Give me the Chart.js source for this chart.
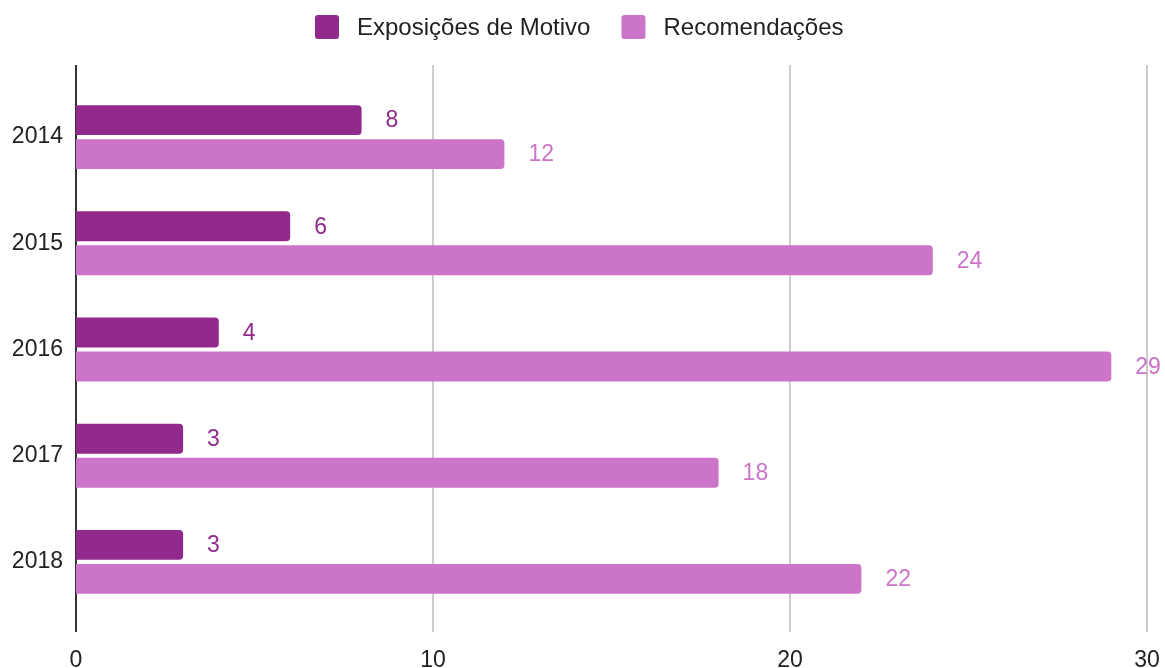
<!DOCTYPE html>
<html>
<head>
<meta charset="utf-8">
<script src="https://cdn.jsdelivr.net/npm/chart.js@4/dist/chart.umd.min.js"></script>
<style>
  html, body { margin: 0; padding: 0; background: #fff; }
  #wrap { width: 1165px; height: 668px; }
</style>
</head>
<body>
<div id="wrap"><canvas id="chart" width="1165" height="668"></canvas></div>
<script>
// Chart data
const years = ['2014', '2015', '2016', '2017', '2018'];
const exposicoes = [8, 6, 4, 3, 3];
const recomendacoes = [12, 24, 29, 18, 22];
const xTicks = [0, 10, 20, 30];

const darkPurple = '#912a8c';
const lightPurple = '#cc74c9';
const fontFamily = '"Liberation Sans", Arial, sans-serif';

// Grid lines and the zero axis run a bit past the plot area
const gridPlugin = {
    id: 'tallGrid',
    beforeDatasetsDraw(chart) {
        const ctx = chart.ctx;
        const xScale = chart.scales.x;
        const top = chart.chartArea.top - 19;
        const bottom = chart.chartArea.bottom + 17;
        ctx.save();
        xTicks.forEach((v) => {
            const x = Math.round(xScale.getPixelForValue(v));
            ctx.beginPath();
            ctx.lineWidth = 2;
            ctx.strokeStyle = v === 0 ? '#333333' : '#cccccc';
            ctx.moveTo(x, top);
            ctx.lineTo(x, bottom);
            ctx.stroke();
        });
        ctx.restore();
    }
};

// Value labels after each bar
const valueLabels = {
    id: 'valueLabels',
    afterDatasetsDraw(chart) {
        const ctx = chart.ctx;
        ctx.save();
        ctx.font = '23px ' + fontFamily;
        ctx.textBaseline = 'middle';
        ctx.textAlign = 'left';
        chart.data.datasets.forEach((ds, i) => {
            const meta = chart.getDatasetMeta(i);
            ctx.fillStyle = ds.backgroundColor;
            meta.data.forEach((bar, j) => {
                ctx.fillText(String(ds.data[j]), bar.x + 24, bar.y + 1);
            });
        });
        ctx.restore();
    }
};

// Legend drawn by hand: rounded squares with roomy gaps
const topLegend = {
    id: 'topLegend',
    afterDraw(chart) {
        const ctx = chart.ctx;
        const box = 24;
        const boxGap = 18;
        const itemGap = 31;
        const cy = 27;
        ctx.save();
        ctx.font = '24px ' + fontFamily;
        ctx.textBaseline = 'middle';
        const items = chart.data.datasets.map((ds) => ({
            text: ds.label,
            color: ds.backgroundColor,
            w: ctx.measureText(ds.label).width
        }));
        let total = 0;
        items.forEach((it, i) => {
            total += box + boxGap + it.w + (i > 0 ? itemGap : 0);
        });
        let x = Math.round(chart.width / 2 - total / 2) - 3;
        items.forEach((it) => {
            ctx.fillStyle = it.color;
            ctx.beginPath();
            ctx.roundRect(x, cy - box / 2, box, box, 3);
            ctx.fill();
            ctx.fillStyle = '#222222';
            ctx.fillText(it.text, x + box + boxGap, cy + 1);
            x += box + boxGap + it.w + itemGap;
        });
        ctx.restore();
    }
};

new Chart(document.getElementById('chart'), {
    type: 'bar',
    data: {
        labels: years,
        datasets: [
            {
                label: 'Exposições de Motivo',
                data: exposicoes,
                backgroundColor: darkPurple,
                borderRadius: 4,
                categoryPercentage: 0.64,
                barPercentage: 0.88
            },
            {
                label: 'Recomendações',
                data: recomendacoes,
                backgroundColor: lightPurple,
                borderRadius: 4,
                categoryPercentage: 0.64,
                barPercentage: 0.88
            }
        ]
    },
    options: {
        indexAxis: 'y',
        responsive: false,
        animation: false,
        layout: { padding: { top: 84, right: 0, left: 0, bottom: 0 } },
        plugins: {
            tooltip: { enabled: false },
            legend: { display: false }
        },
        scales: {
            x: {
                min: 0,
                max: 30,
                afterBuildTicks(scale) {
                    scale.ticks = xTicks.map((v) => ({ value: v }));
                },
                afterFit(scale) {
                    scale.height = 53;
                    scale.paddingRight = 18;
                    scale.paddingLeft = 0;
                },
                grid: { display: false },
                border: { display: false },
                ticks: {
                    color: '#222222',
                    padding: 24,
                    font: { family: fontFamily, size: 23 }
                }
            },
            y: {
                afterFit(scale) { scale.width = 76; },
                grid: { display: false },
                border: { display: false },
                ticks: {
                    color: '#222222',
                    padding: 5,
                    font: { family: fontFamily, size: 23 }
                }
            }
        }
    },
    plugins: [gridPlugin, valueLabels, topLegend]
});
</script>
</body>
</html>
